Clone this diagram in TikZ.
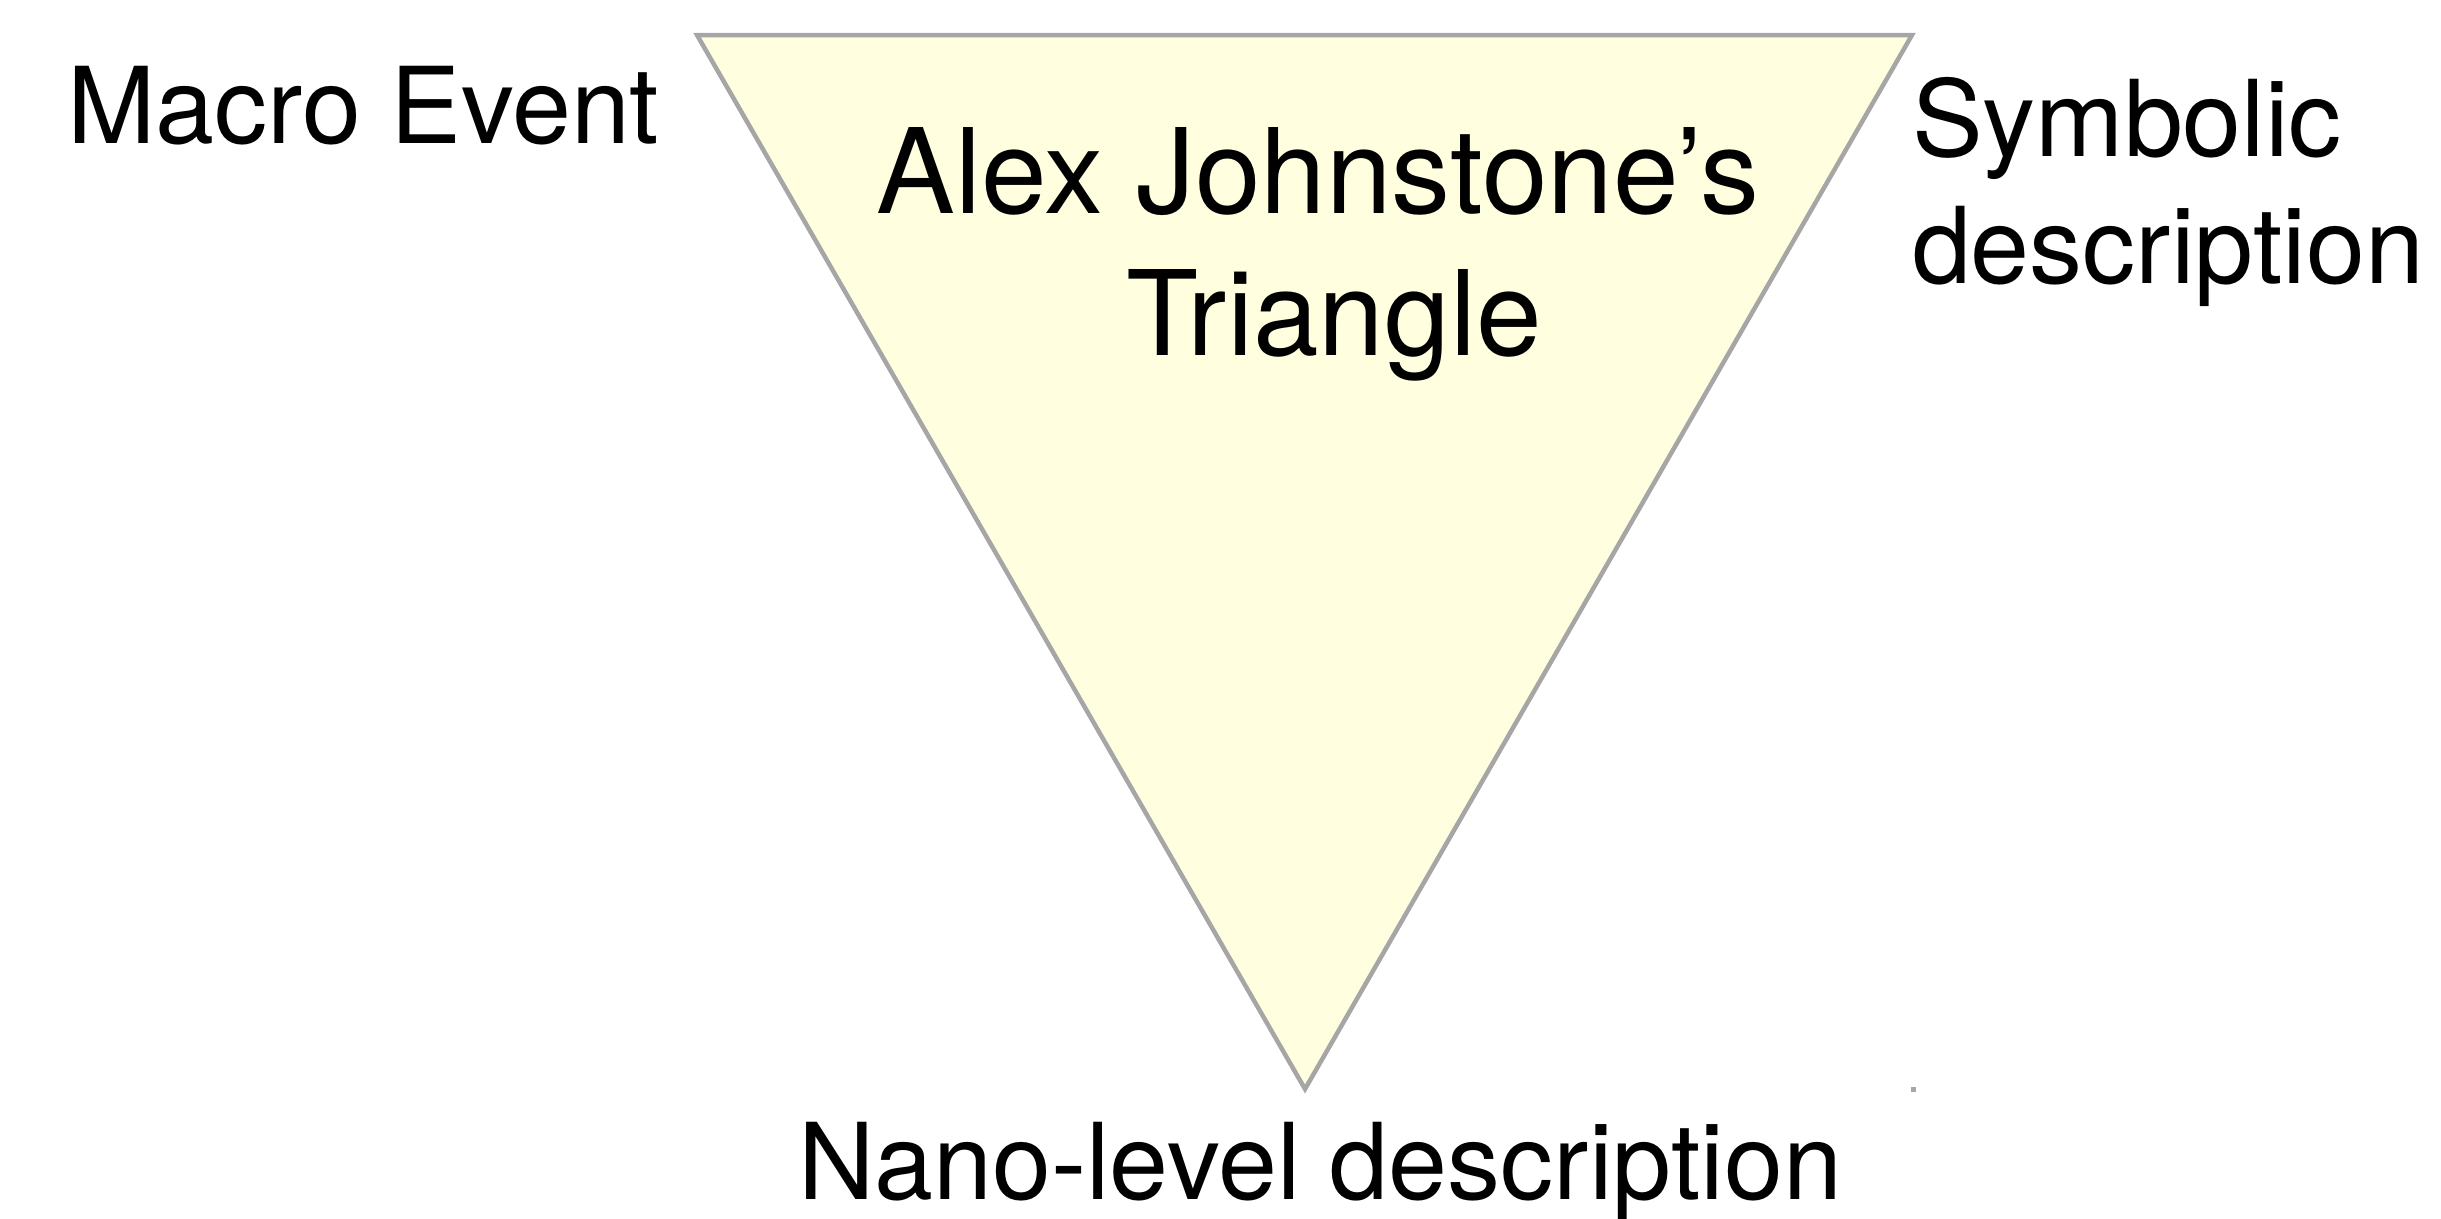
\documentclass[tikz,border=0pt]{standalone}
\usepackage{fontspec}
\setmainfont{TeX Gyre Heros}
\definecolor{trifill}{HTML}{FFFFE0}
\definecolor{tridraw}{HTML}{A6A6A6}
\tikzset{
  lbl/.style={inner sep=0pt, outer sep=0pt, font=\fontsize{106}{127}\selectfont},
  big/.style={inner sep=0pt, outer sep=0pt, font=\fontsize{118}{141}\selectfont},
}
\begin{document}
\begin{tikzpicture}[x=1pt,y=-1pt]
\useasboundingbox (0,0) rectangle (2441,1218);
\coordinate (tl) at (697,35);
\coordinate (tr) at (1912,35);
\coordinate (bt) at (1305,1089);
\draw[tridraw, fill=trifill, line width=4.5pt, line join=miter] (tl) -- (tr) -- (bt) -- cycle;
\node[lbl, anchor=base west] (macro) at (67,143) {Macro Event};
\node[lbl, anchor=base west] (sym1) at (1912,156) {Symbolic};
\node[lbl, anchor=base west] (sym2) at (1912,283) {description};
\node[big, anchor=base] (alex) at (1318,213) {Alex Johnstone’s};
\node[big, anchor=base] (tri) at (1334,355) {Triangle};
\node[lbl, anchor=base] (nano) at (1320,1199) {Nano-level description};
\fill[tridraw] (1910.5,1086.5) rectangle (1915.5,1091.5);
\end{tikzpicture}
\end{document}
